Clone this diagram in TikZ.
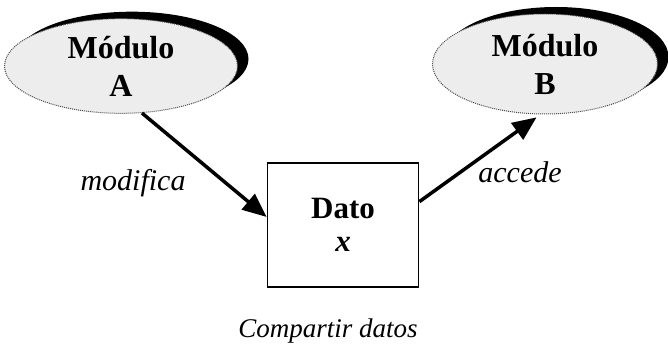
\documentclass[tikz,border=0pt]{standalone}
\usepackage{fontspec}
\setmainfont{Liberation Serif}
\usetikzlibrary{arrows.meta,shapes.geometric,shadows}

\begin{document}
\begin{tikzpicture}[x=1pt,y=-1pt,
    modulo/.style={ellipse,draw=black!70,densely dotted,line width=1pt,
      fill=black!7,align=center,
      font=\fontsize{32}{38}\selectfont\bfseries,
      drop shadow={shadow xshift=11pt,shadow yshift=7pt,
        fill=black,opacity=1}},
    flecha/.style={-{Triangle[length=24pt,width=20pt]},line width=3.5pt},
    etiqueta/.style={font=\fontsize{30}{36}\selectfont\itshape,anchor=base}]
  \useasboundingbox (0,0) rectangle (668,347);
  \node[modulo,minimum width=233pt,minimum height=94pt]
    (modA) at (121,66) {M\'odulo\\A};
  \node[modulo,minimum width=225pt,minimum height=100pt]
    (modB) at (545,64) {M\'odulo\\B};
  \node[draw,line width=1.8pt,fill=white,align=center,
        minimum width=151pt,minimum height=124pt,
        font=\fontsize{31}{33}\selectfont\bfseries]
    (dato) at (343,225) {Dato\\\itshape x};
  \draw[flecha] (modA.-66) -- (dato.174);
  \draw[flecha,shorten >=5pt] (dato.17) -- (modB.-95);
  \node[etiqueta] (mod) at (133,190) {modifica};
  \node[etiqueta] (acc) at (520,183) {accede};
  \node[etiqueta,font=\fontsize{27}{32}\selectfont\itshape]
    (tit) at (328,337) {Compartir datos};
\end{tikzpicture}
\end{document}
